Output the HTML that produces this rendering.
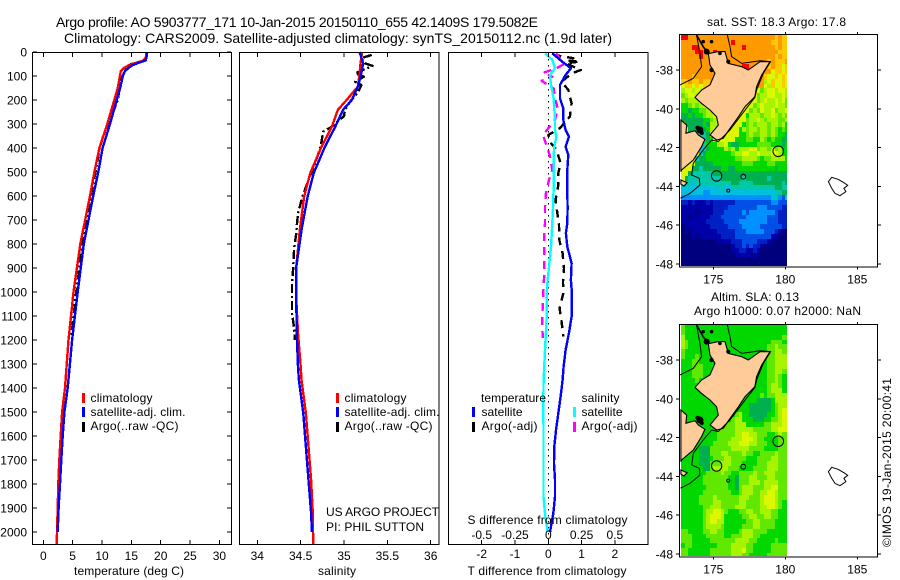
<!DOCTYPE html>
<html lang="en">
<head>
<meta charset="utf-8">
<title>Argo profile 5903777_171</title>
<style>
html,body{margin:0;padding:0;background:#fff;}
svg{display:block;}
text{font-family:"Liberation Sans",Arial,sans-serif;font-size:12px;fill:#000;}
</style>
</head>
<body>
<svg id="fig" xmlns="http://www.w3.org/2000/svg" width="900" height="580" viewBox="0 0 900 580">
<rect width="900" height="580" fill="#fff"/>
<text x="56" y="27" style="font-size:14px" textLength="482">Argo profile: AO 5903777_171 10-Jan-2015 20150110_655 42.1409S 179.5082E</text>
<text x="64" y="43" style="font-size:14px" textLength="548">Climatology: CARS2009. Satellite-adjusted climatology: synTS_20150112.nc (1.9d later)</text>

<g id="p1"></g>
<g id="p2"></g>
<g id="p3"></g>
<g id="m1"></g>
<g id="m2"></g>

<text x="74" y="575" textLength="110">temperature (deg C)</text>
<text x="318" y="575" textLength="38">salinity</text>
<text x="467.5" y="575" textLength="159">T difference from climatology</text>
<text x="467.5" y="524" textLength="160">S difference from climatology</text>

<g>
<rect x="82" y="393" width="3" height="10" fill="#f00"/>
<rect x="82" y="407" width="3" height="10" fill="#00f"/>
<rect x="82" y="422" width="3" height="10" fill="#000"/>
<text x="90.5" y="402" textLength="62">climatology</text>
<text x="90.5" y="416" textLength="95">satellite-adj. clim.</text>
<text x="90.5" y="430" textLength="88">Argo(..raw -QC)</text>
</g>
<g>
<rect x="336" y="393" width="3" height="10" fill="#f00"/>
<rect x="336" y="407" width="3" height="10" fill="#00f"/>
<rect x="336" y="422" width="3" height="10" fill="#000"/>
<text x="344.5" y="402" textLength="62">climatology</text>
<text x="344.5" y="416" textLength="95">satellite-adj. clim.</text>
<text x="344.5" y="430" textLength="88">Argo(..raw -QC)</text>
<text x="326" y="516" textLength="113">US ARGO PROJECT</text>
<text x="326" y="531" textLength="98">PI: PHIL SUTTON</text>
</g>
<g>
<text x="481" y="402" textLength="65">temperature</text>
<rect x="472" y="407" width="3" height="10" fill="#00f"/>
<rect x="472" y="422" width="3" height="10" fill="#000"/>
<text x="481.5" y="416" textLength="41">satellite</text>
<text x="481.5" y="430" textLength="56">Argo(-adj)</text>
<text x="581.5" y="402" textLength="38">salinity</text>
<rect x="573" y="407" width="3" height="10" fill="#0ff"/>
<rect x="573" y="422" width="3" height="10" fill="#f0f"/>
<text x="581.5" y="416" textLength="41">satellite</text>
<text x="581.5" y="430" textLength="56">Argo(-adj)</text>
</g>

<text x="707" y="26" textLength="139">sat. SST: 18.3 Argo: 17.8</text>
<text x="711" y="301" textLength="88">Altim. SLA: 0.13</text>
<text x="694" y="315" textLength="167">Argo h1000: 0.07 h2000: NaN</text>
<text transform="translate(891,547) rotate(-90)" textLength="169">©IMOS 19-Jan-2015 20:00:41</text>
</svg>
<script>
// ---------- profile data ----------
const depthTicks = [0,100,200,300,400,500,600,700,800,900,1000,1100,1200,1300,1400,1500,1600,1700,1800,1900,2000];
const tempTicks = [0,5,10,15,20,25,30];
const salTicks = [34,34.5,35,35.5,36];
const salTickLabels = ["34","34.5","35","35.5","36"];
const tDiffTicks = [-2,-1,0,1,2];
const sDiffTicks = [-0.5,-0.25,0,0.25,0.5];
const sDiffTickLabels = ["-0.5","-0.25","0","0.25","0.5"];

const tempDepth = [0,20,35,45,55,65,80,100,150,200,300,400,500,600,800,1000,1200,1400,1500,1600,1700,1800,1900,2000,2050];
const tempClim = [17.6,17.5,17.2,15.8,14.6,13.8,13.2,13.05,12.7,12.1,10.9,9.55,8.7,7.95,6.3,5.15,4.3,3.7,3.2,2.96,2.73,2.56,2.45,2.33,2.3];
const tempSatDepth = [0,20,35,45,55,65,80,100,150,200,300,400,500,600,800,1000,1200,1400,1500,1600,1700,1800,1900,2000];
const tempSat = [17.7,17.6,17.45,16.2,15.2,14.6,13.9,13.55,13.1,12.5,11.36,10.1,9.37,8.5,6.9,5.86,4.9,4.15,3.6,3.3,3.07,2.85,2.6,2.45];
const tempArgoDepth = [0,20,40,50,60,100,150,200,250,300,350,400,500,600,800,1000,1190];
const tempArgo = [17.6,17.5,17.0,15,14.3,13.5,13,12.7,11.9,11.1,10.2,9.6,8.9,8.1,6.7,5.6,4.75];

const salDepth = [0,47,89,144,200,241,311,395,505,603,742,895,1033,1172,1311,1367,1506,1646,1783,1921,2050];
const salClim = [35.21,35.19,35.18,35.16,35.03,34.93,34.86,34.74,34.61,34.54,34.49,34.45,34.45,34.47,34.5,34.51,34.56,34.59,34.62,34.64,34.645];
const salSatDepth = [0,47,89,144,200,241,311,395,505,603,742,895,1033,1172,1311,1367,1506,1646,1783,1921,2000];
const salSat = [35.18,35.22,35.2,35.16,35.09,34.99,34.9,34.78,34.65,34.58,34.51,34.45,34.45,34.455,34.47,34.48,34.53,34.56,34.59,34.62,34.63];
const salArgoDepth = [12,26,47,58,78,89,103,124,138,166,207,241,267,311,332,395,464,533,603,672,728,755,820,895,960,1033,1090,1125,1172,1200];
const salArgo = [35.32,35.2,35.24,35.33,35.2,35.13,35.23,35.13,35.2,35.165,35.07,35.01,35.0,34.86,34.76,34.73,34.665,34.59,34.52,34.47,34.455,34.45,34.425,34.415,34.4,34.4,34.4,34.415,34.43,34.43];

const tDiffSatDepth = [5,33,68,96,137,193,235,283,325,353,395,429,492,575,650,714,755,811,880,950,1005,1103,1172,1242,1311,1367,1436,1506,1575,1644,1714,1783,1853,1922,2000];
const tDiffSat = [0.12,0.35,0.68,0.52,0.35,0.35,0.45,0.45,0.52,0.62,0.52,0.6,0.57,0.57,0.58,0.57,0.53,0.57,0.7,0.68,0.71,0.7,0.62,0.52,0.46,0.43,0.37,0.3,0.23,0.18,0.17,0.2,0.2,0.15,0.05];
const tDiffArgoDepth = [12,26,36,40,47,75,89,124,158,214,269,317,346,380,408,464,505,555,617,650,720,783,839,902,957,1005,1068,1124,1186];
const tDiffArgo = [0.15,0.75,0.57,0.95,0.52,0.98,0.7,0.4,0.6,0.7,0.65,0.35,0,0.08,0.25,0.37,0.3,0.3,0.22,0.25,0.32,0.33,0.43,0.47,0.44,0.45,0.34,0.4,0.45];
const sDiffSatDepth = [5,33,68,96,137,193,235,283,325,353,395,429,492,575,650,714,811,880,950,1005,1103,1242,1367,1436,1644,1853,1922,2000];
const sDiffSat = [-0.025,0.03,0.05,0.013,0.02,0.04,0.045,0.05,0.05,0.06,0.045,0.04,0.04,0.04,0.035,0.03,0.02,0.008,-0.005,-0.012,-0.012,-0.025,-0.035,-0.037,-0.036,-0.036,-0.025,-0.005];
const sDiffArgoDepth = [5,33,50,68,87,103,120,152,193,235,283,325,346,395,429,492,533,589,645,714,755,811,866,921,977,1033,1096,1158,1192];
const sDiffArgo = [0.06,0.09,0.12,0.06,-0.04,0.03,-0.05,0.04,0.05,0.07,0.05,-0.01,-0.04,-0.01,0.01,0.03,0.005,-0.018,-0.025,-0.025,-0.03,-0.03,-0.03,-0.03,-0.035,-0.04,-0.045,-0.045,-0.04];

// ---------- map data ----------
const mapLatTicks = [-38,-40,-42,-44,-46,-48];
const mapLonTicks = [175,180,185];
const sstRows = [
"eeddddddddddddddddddddddddcdcc","ddddddddddddddeddddddddddccdcc","dddeeddddddddddddeddddddddcdcc","ddddeedddedddddddddddddddddccc",
"dddddeddddddddddddddddddddcdcc","ddddddddddddddddddddddddcdcccd","dddddddddddddddddeedddddcdccbc","dddddddddddddddddddddddddbccbc",
"dddcdddddddddddddddddddcbbcbcb","ccdccdccdddddddddddddddabcbbcb","bccbcbccbcdddddddddddddbacbbcb","abbabbbaabbbbbbbbbbbbb9abbabba",
"9abbabaabbbbbbbbbbbbb9aabbaaba","a9aaabbaabbbbbbbbbbbb9abaabab9","889a9ababbbbbbbbbbbb9abaaabaa9","8878899aabbbbbbbbbb9a9baab9aab",
"7787889aabbbbbbbbb8aaa9aaba9a9","777777889abbbbbbbb9aaba9aaa99a","b7777787aabbbbbbb89a9aaa9aa9a8","bb777778abbbbbbb8a9aa9aa9a9898",
"bbbb6667abbbbbbb889a99aa9a9887","bbbb56578bbbbbb8889988a9898877","bbbb556888aab87788888999988878","bbbb55678888a9a8aaabb9aa9b9a88",
"bbbbb6788888889aabbaabaaabba88","bbbb6778888888899aaaa9899aaaa8","bbbb7777788888888999888899888","bbb77677777887788888888888788",
"bb7666666777777777777777777777","b76666666667777776777777677777","b66566666666667766667777777767","55555555556655666666666666776",
"555555445555555555555555556677","444444444444444444444444456436","2212111212222223333333333443","11111111122223333333344433332",
"11110111122233333434444444322","11011111222333333344444433322","11111112222233334444444433322","01111111222223333444443333332",
"01011111112222233344444333210","00010111111222233333333331100","00000000001111222333322210000","00000000000000122323221000000",
"00000000000000112211210000000","00000000000000011110100000000","00000000000000000000000000000","00000000000000000000000000000"];
const slaRows = [
"98888888888888888888888888888","98888888888888888888888888888","a8888888888888888888888888889","a9888888888888888888888889998",
"a9888888888888888888888899a99","98888888888888888888888899aa9","98889888888888888888888899aaa","88899888888888888888888899aaa",
"88899988888888888888888899aaa","88899988888888888888888899aa9","88899988888888888888888899a98","88889888888888888888888899a98",
"8888888888888888888888889aa98","8888888888888888888888889aaa8","88888888888888888888889899aaa","88888888888888888888877778aaa",
"888888888888888888877777789aa","888888888888888888877777789ab","8888888888888889a8877777889ab","888888888888889aa8887778899ab",
"888888888889999aaa8888899aaab","888888888899999aaaaa99999aabb","888888888899999aabbaa999889a9","88888888889999aaabbba99888899",
"8888888889999aaabbbaa99988899","88888777999999aaaaa9999888899","88888777999aa9999a99889999a99","888887778999aa99998889999aa99",
"88888777999aaa9998888999aaa99","888888779aaaa99988889999aaa99","88888889999a99889999a99aaa999","8888889999999887999aa999aa999",
"8888889999999887999aaa9aaaa99","88888889999998879aaa999aabb99","88888899999999889aaa99aabba99","888889999a999999aaa999abbba99",
"888889999aa99999aa9999abbba98","88888899aaa9999aaa9999aabba98","8888889aabba988899aa99aaa9988","8888889abbba8888899aa99aa9988",
"8888889abbaa88888899aa9999888","8888889aaaa988888999aa9999888","99888899aa9988889aaa99998888","99988889999988999aaa99888888",
"999888889999999aaaa998888898","89988888889999aaaa9988888999","99888888999999aaab9988888999","99888888999999aaa99888889999"];
const northIslandLon = [174.65,174.77,175.35,175.81,176.04,176.97,177.43,178.24,178.94,178.36,178.01,177.89,177.2,176.74,176.16,175.69,175.23,174.77,175.35,175.23,174.77,174.19,173.73,174.19,174.77,175.12,174.77];
const northIslandLat = [-37.14,-37.14,-37.05,-37.05,-37.66,-37.83,-38,-37.57,-37.57,-38.26,-38.86,-39.37,-39.89,-40.41,-41.01,-41.52,-41.61,-41.35,-40.84,-40.41,-40.06,-39.72,-39.41,-39.03,-38.77,-38.17,-37.74];
const southIslandLon = [172.75,173.15,173.1,173.73,173.96,174.42,174.19,173.61,172.8,172.75];
const southIslandLat = [-40.58,-40.84,-41.26,-41.13,-41.35,-41.57,-41.95,-42.64,-43.15,-43.24];
const banksLon = [172.75,173.19,172.96,172.75];
const banksLat = [-43.67,-43.81,-43.98,-43.88];
const chathamLon = [182.99,183.22,183.68,184.07,184.33,184.07,184.21,183.8,183.45,183.22];
const chathamLat = [-43.76,-43.53,-43.64,-43.81,-43.95,-44.1,-44.27,-44.48,-44.36,-44.1];
const isobathWestLon = [172.69,173.61,174.19,174.07,173.84];
const isobathWestLat = [-38.77,-38.43,-37.83,-37.14,-36.2];
const isobathEastLon = [175.98,176.16,176.27,176.97,178.24,178.98,178.47,178.01,177.89,176.85,176.16,175.35,174.88,174.3,173.61,173.5,174.03,174.07,173.38,172.72];
const isobathEastLat = [-36.2,-36.8,-37.31,-37.66,-37.52,-37.57,-38.17,-39.03,-39.41,-40.41,-41.09,-41.69,-41.61,-42.12,-42.81,-43.41,-43.58,-43.93,-44.36,-44.61];
const seamountLon = [179.51,175.23,177.08,176.04];
const seamountLat = [-42.19,-43.46,-43.5,-44.22];
const seamountRadius = [5.3,5.2,2.4,1.5];
const sillLon = [174.07,174.54,174.88,174.88,176.04,174.3,175.46,173.9,174.2];
const sillLat = [-41.09,-37.05,-36.54,-38,-37.57,-36.54,-37.14,-40.98,-41.25];
const sillRadius = [3.5,3,1.8,2.2,2,1.8,1.8,2,2];

// ---------- drawing ----------
const NS = 'http://www.w3.org/2000/svg';
const palette = ['#00007f','#0000a8','#0020c4','#0050e8','#0090ff','#00c0e0','#00c8a8','#00b050','#00d800','#60e800','#a8f400','#dcf800','#ffc800','#ff9900','#ff0000'];
function make(parent, tag, attrs) {
  const el = document.createElementNS(NS, tag);
  for (const k in attrs) el.setAttribute(k, attrs[k]);
  parent.appendChild(el);
  return el;
}
function yOf(d) { return 52 + d * 0.24; }
function pathOf(xs, ys, xf, yf) {
  return xs.map((v, i) => xf(v).toFixed(1) + ',' + yf(ys[i]).toFixed(1)).join(' ');
}
function drawLine(g, xs, ds, xf, color, width, dash, name) {
  const line = make(g, 'polyline', {points: pathOf(xs, ds, xf, yOf), fill: 'none', stroke: color, 'stroke-width': width, 'shape-rendering': 'crispEdges', 'stroke-linejoin': 'round'});
  if (dash) line.setAttribute('stroke-dasharray', dash);
  
  
}
function tick(g, x1, y1, x2, y2) {
  const t = make(g, 'line', {x1: x1, y1: y1, x2: x2, y2: y2, stroke: '#000', 'stroke-width': 1, 'shape-rendering': 'crispEdges'});
  
  
}
function label(g, x, y, s, anchor) {
  const t = make(g, 'text', {x: x, y: y, 'text-anchor': anchor});
  t.textContent = s;
  
  
}
function frame(g, x, y, w, h, name) {
  const r = make(g, 'rect', {x: x, y: y, width: w, height: h, fill: 'none', stroke: '#000', 'stroke-width': 1, 'shape-rendering': 'crispEdges'});
  
  
}

// temperature panel
const p1 = document.getElementById('p1');
const xT = v => 43.3 + v * 5.87;
drawLine(p1, tempArgo, tempArgoDepth, xT, '#000', 2.4, '9 3 2 3', 'temperature-argo-line');
drawLine(p1, tempClim, tempDepth, xT, '#f00', 2.4, null, 'temperature-climatology-line');
drawLine(p1, tempSat, tempSatDepth, xT, '#00f', 2.4, null, 'temperature-satellite-line');
frame(p1, 32.5, 52.5, 199, 492, 'temperature-plot-frame');
depthTicks.forEach(d => {
  tick(p1, 33, yOf(d), 37, yOf(d));
  tick(p1, 227, yOf(d), 231, yOf(d));
  label(p1, 27, yOf(d) + 4.5, String(d), 'end');
});
tempTicks.forEach(v => {
  tick(p1, xT(v), 53, xT(v), 57);
  tick(p1, xT(v), 540, xT(v), 544);
  label(p1, xT(v), 560, String(v), 'middle');
});

// salinity panel
const p2 = document.getElementById('p2');
const xS = v => 257.3 + (v - 34) * 86.7;
drawLine(p2, salArgo, salArgoDepth, xS, '#000', 2.4, '9 3 2 3', 'salinity-argo-line');
drawLine(p2, salClim, salDepth, xS, '#f00', 2.4, null, 'salinity-climatology-line');
drawLine(p2, salSat, salSatDepth, xS, '#00f', 2.4, null, 'salinity-satellite-line');
frame(p2, 239.5, 52.5, 199.5, 492, 'salinity-plot-frame');
salTicks.forEach((v, i) => {
  tick(p2, xS(v), 53, xS(v), 57);
  tick(p2, xS(v), 540, xS(v), 544);
  label(p2, xS(v), 560, salTickLabels[i], 'middle');
});

// difference panel
const p3 = document.getElementById('p3');
const xTd = v => 548.3 + v * 33.3;
const xSd = v => 548.3 + v * 133.2;
const zero = make(p3, 'line', {x1: 548.5, y1: 53, x2: 548.5, y2: 544, stroke: '#000', 'stroke-width': 1, 'stroke-dasharray': '1.5 4.5', 'shape-rendering': 'crispEdges'});


drawLine(p3, tDiffArgo, tDiffArgoDepth, xTd, '#000', 2.4, '8 6', 't-diff-argo-line');
drawLine(p3, sDiffArgo, sDiffArgoDepth, xSd, '#f0f', 2.4, '8 6', 's-diff-argo-line');
drawLine(p3, tDiffSat, tDiffSatDepth, xTd, '#00f', 2.4, null, 't-diff-satellite-line');
drawLine(p3, sDiffSat, sDiffSatDepth, xSd, '#0ff', 2.4, null, 's-diff-satellite-line');
frame(p3, 448.5, 52.5, 199.5, 492, 'difference-plot-frame');
tDiffTicks.forEach(v => {
  tick(p3, xTd(v), 53, xTd(v), 57);
  tick(p3, xTd(v), 540, xTd(v), 544);
  label(p3, xTd(v), 558, String(v), 'middle');
});
sDiffTicks.forEach((v, i) => {
  label(p3, xSd(v), 539, sDiffTickLabels[i], 'middle');
});

// maps
function drawMap(id, rows, dy, top, bottom, name) {
  const g = document.getElementById(id);
  const X = lon => 713.3 + (lon - 175) * 14.4;
  const Y = lat => 70 + dy + (-38 - lat) * 19.4;
  const clipId = 'clip-' + id;
  const defs = make(g, 'clipPath', {id: clipId});
  make(defs, 'rect', {x: 681, y: top, width: 106, height: 266 + dy - top});
  const cells = make(g, 'g', {'clip-path': 'url(#' + clipId + ')', 'shape-rendering': 'crispEdges'});
  
  
  rows.forEach((row, r) => {
    const full = row.padEnd(30, row[row.length - 1]);
    for (let c = 0; c < 30; c++) {
      const lon0 = 172.75 + 0.25 * c;
      const lat0 = -36.2 - 0.25 * r;
      const x0 = Math.round(X(lon0));
      const y0 = Math.round(Y(lat0));
      const cell = make(cells, 'rect', {x: x0, y: y0, width: Math.round(X(lon0 + 0.25)) - x0, height: Math.round(Y(lat0 - 0.25)) - y0, fill: palette[parseInt(full[c], 16)]});
      
      
    }
  });
  const over = make(g, 'g', {'clip-path': 'url(#outer-' + id + ')'});
  const outer = make(g, 'clipPath', {id: 'outer-' + id});
  make(outer, 'rect', {x: 680, y: top, width: 197, height: 266 + dy - top});
  [[northIslandLon, northIslandLat, 'north-island'], [southIslandLon, southIslandLat, 'south-island'], [banksLon, banksLat, 'banks-peninsula']].forEach(a => {
    const poly = make(over, 'polygon', {points: pathOf(a[0], a[1], X, Y), fill: '#ffcc99', stroke: '#000', 'stroke-width': 1.1});
    
    
  });
  const chat = make(over, 'polygon', {points: pathOf(chathamLon, chathamLat, X, Y), fill: '#fff', stroke: '#000', 'stroke-width': 1});
  
  
  [[isobathWestLon, isobathWestLat, 'isobath-west'], [isobathEastLon, isobathEastLat, 'isobath-east']].forEach(a => {
    const iso = make(over, 'polyline', {points: pathOf(a[0], a[1], X, Y), fill: 'none', stroke: '#000', 'stroke-width': 1});
    
    
  });
  seamountLon.forEach((lon, i) => {
    const s = make(over, 'circle', {cx: X(lon), cy: Y(seamountLat[i]), r: seamountRadius[i], fill: 'none', stroke: '#000', 'stroke-width': 1});
    
    
  });
  sillLon.forEach((lon, i) => {
    const b = make(over, 'circle', {cx: X(lon), cy: Y(sillLat[i]), r: sillRadius[i], fill: '#000'});
    
    
  });
  const inlet = make(over, 'polyline', {points: pathOf([173.84,174.3,174.65], [-36.2,-36.8,-37.14], X, Y), fill: 'none', stroke: '#000', 'stroke-width': 1.6});
  
  
  frame(g, 679.5, top - 0.5, 198, bottom - top + 1, name + '-frame');
  mapLatTicks.forEach(lat => {
    tick(g, 676, Y(lat), 679, Y(lat));
    tick(g, 878, Y(lat), 881, Y(lat));
    label(g, 673, Y(lat) + 4.5, String(lat), 'end');
  });
  mapLonTicks.forEach(lon => {
    tick(g, X(lon), top - 3, X(lon), top);
    tick(g, X(lon), bottom, X(lon), bottom + 3);
    label(g, X(lon), bottom + 17, String(lon), 'middle');
  });
}
drawMap('m1', sstRows, 0, 35, 266.5, 'sst-map');
drawMap('m2', slaRows, 290, 325, 556.5, 'sla-map');
</script>
</body>
</html>
